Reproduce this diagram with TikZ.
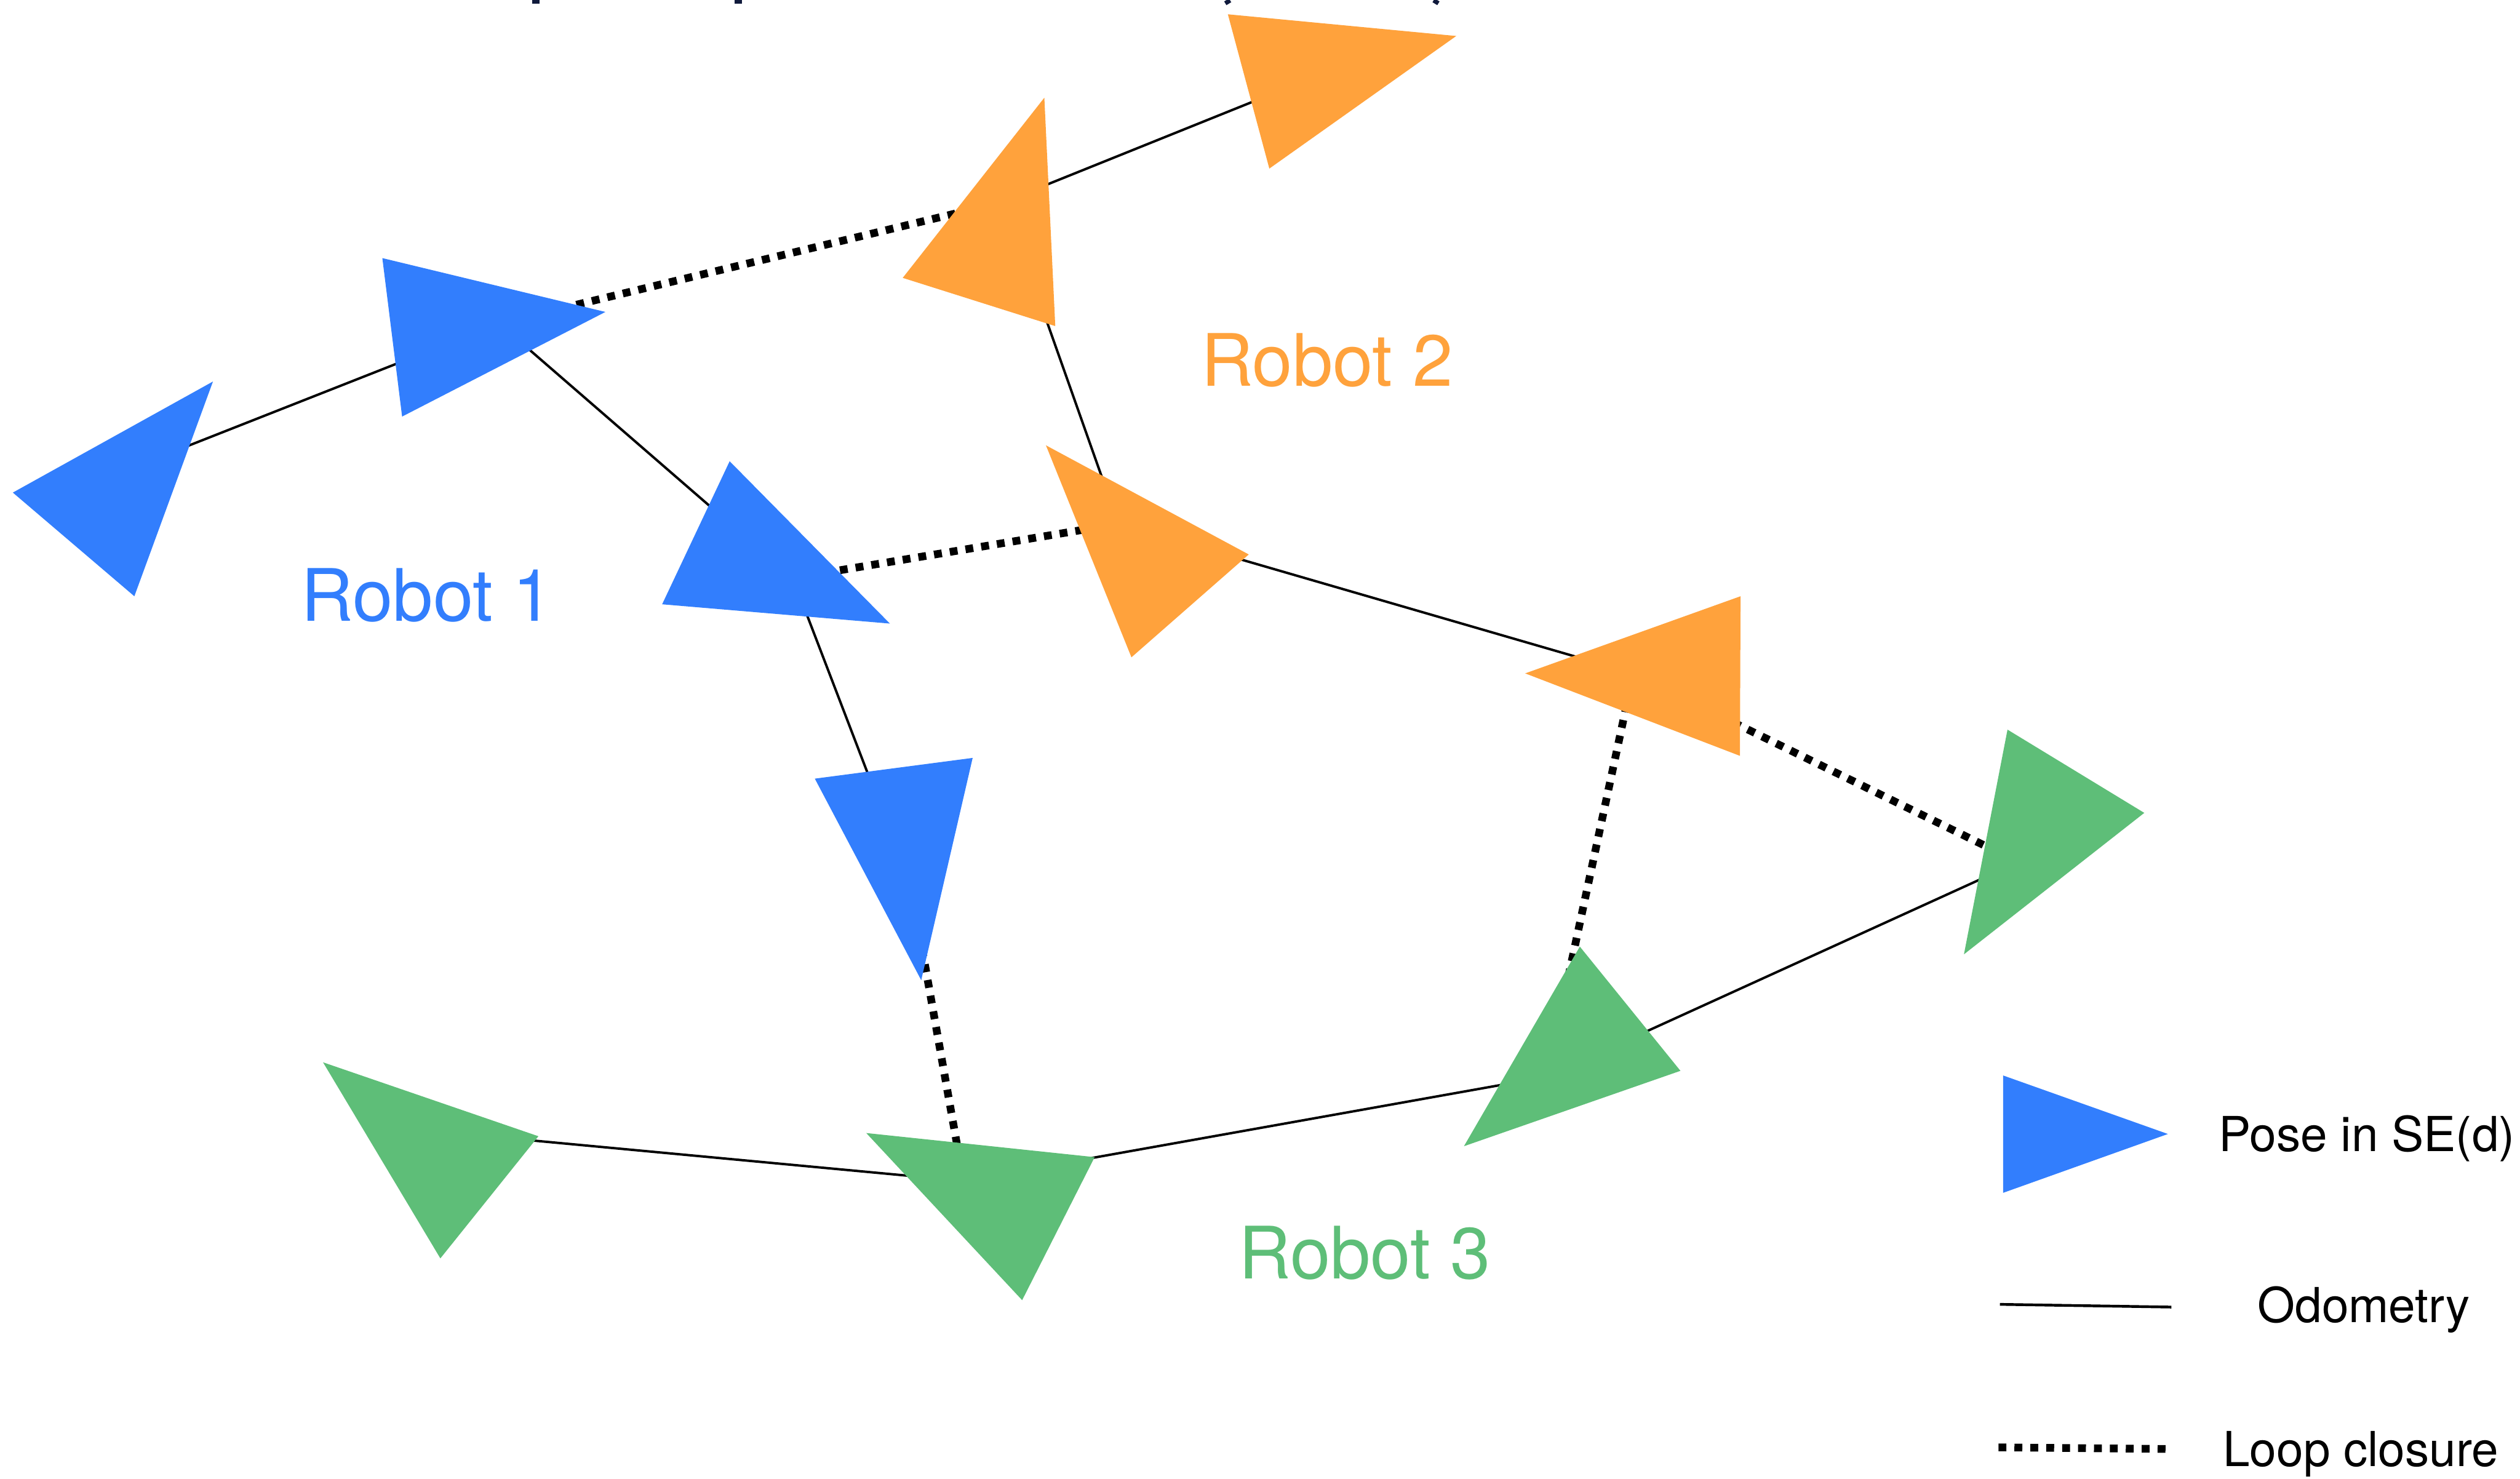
\documentclass[tikz,border=0pt]{standalone}
\usepackage{fontspec}
\setmainfont{TeX Gyre Heros}

\definecolor{poseblue}{RGB}{50,126,253}
\definecolor{poseorange}{RGB}{255,162,60}
\definecolor{posegreen}{RGB}{94,190,120}
\definecolor{titlenavy}{RGB}{16,26,60}

\tikzset{
  odom/.style={draw=black, line width=1.5pt},
  loopc/.style={draw=black, line width=4.8pt, dash pattern=on 4.9pt off 5pt},
  bluepose/.style={fill=poseblue},
  orangepose/.style={fill=poseorange},
  greenpose/.style={fill=posegreen},
  robotlabel/.style={inner sep=0pt, anchor=base west, font=\fontsize{45}{54}\selectfont},
  legendlabel/.style={inner sep=0pt, anchor=base west, font=\fontsize{30}{36}\selectfont},
  titlefrag/.style={fill=titlenavy},
}

\begin{document}
\begin{tikzpicture}[x=1pt, y=-1pt]
\useasboundingbox (0,0) rectangle (1568,920);

% bottom of the heading above the graph
\fill[titlefrag] (331.2,0) rectangle (335.6,2.3);
\fill[titlefrag] (457.2,0) rectangle (461.6,2.3);
\draw[titlenavy, line width=3.5pt] (763.2,0) -- (764.6,2.3);
\draw[titlenavy, line width=3.5pt] (894.2,0) -- (892.8,2.3);

% pose centres
\coordinate (b1) at (80,292);
\coordinate (b2) at (310.5,201.2);
\coordinate (b3) at (493.3,359.7);
\coordinate (b4) at (566.8,551.3);
\coordinate (o1) at (815,49);
\coordinate (o2) at (625,125.5);
\coordinate (o3) at (695.9,326);
\coordinate (o4) at (1016.3,419);
\coordinate (g1) at (285,705.3);
\coordinate (g2) at (599.5,734.8);
\coordinate (g3) at (962.5,670);
\coordinate (g4) at (1255.8,536.4);

% odometry edges
\draw[odom] (b1) -- (b2);
\draw[odom] (b2) -- (b3);
\draw[odom] (b3) -- (b4);
\draw[odom] (o2) -- (o1);
\draw[odom] (o2) -- (o3);
\draw[odom] (o3) -- (o4);
\draw[odom] (g1) -- (g2);
\draw[odom] (g2) -- (g3);
\draw[odom] (g3) -- (g4);

% loop closures
\draw[loopc] (b2) -- (o2);
\draw[loopc] (b3) -- (o3);
\draw[loopc] (o4) -- (g4);
\draw[loopc] (o4) -- (g3);
\draw[loopc] (b4) -- (g2);

% Robot 1 poses
\fill[bluepose] (8,306.5) -- (132.5,237.4) -- (83.6,371) -- cycle;
\fill[bluepose] (237.9,160.6) -- (376.7,194.1) -- (250.2,259.2) -- cycle;
\fill[bluepose] (454,287) -- (553.7,388) -- (412,376) -- cycle;
\fill[bluepose] (507,484.5) -- (605.2,471.6) -- (573.2,609.9) -- cycle;

% Robot 2 poses
\fill[orangepose] (764,8.9) -- (906.1,22.4) -- (789.8,104.9) -- cycle;
\fill[orangepose] (649.8,60.8) -- (656.6,202.9) -- (561.7,172.9) -- cycle;
\fill[orangepose] (650.8,277.1) -- (777,345) -- (704,409) -- cycle;
\fill[orangepose] (949,419) -- (1083,371) -- (1082.6,470.3) -- cycle;

% Robot 3 poses
\fill[greenpose] (201,661) -- (335,707) -- (274,783) -- cycle;
\fill[greenpose] (539,705) -- (681.1,720) -- (636,809) -- cycle;
\fill[greenpose] (983,589) -- (1045.6,666.3) -- (910.9,713.2) -- cycle;
\fill[greenpose] (1249.1,454) -- (1334.2,505.8) -- (1222,593.8) -- cycle;

% robot names
\node[robotlabel, text=poseblue] (r1) at (187.2,386.6) {Robot 1};
\node[robotlabel, text=poseorange] (r2) at (747.1,240.4) {Robot 2};
\node[robotlabel, text=posegreen] (r3) at (770.5,795.8) {Robot 3};

% legend
\fill[bluepose] (1246.4,669.2) -- (1348.9,705.6) -- (1246.4,742.2) -- cycle;
\node[legendlabel] (lpose) at (1380.3,716.6) {Pose in SE(d)};
\coordinate (odoA) at (1244.4,811.6);
\coordinate (odoB) at (1351.1,813.3);
\draw[odom, line width=1.7pt] (odoA) -- (odoB);
\node[legendlabel] (lodo) at (1404.5,822.8) {Odometry};
\coordinate (lcA) at (1243.5,900.6);
\coordinate (lcB) at (1348.5,901.6);
\draw[loopc] (lcA) -- (lcB);
\node[legendlabel] (lloop) at (1383,912.4) {Loop closure};
\end{tikzpicture}
\end{document}
